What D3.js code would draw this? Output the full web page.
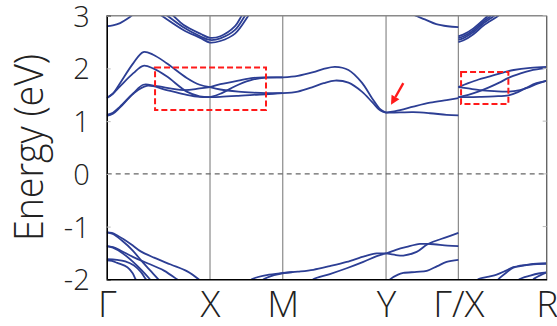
<!DOCTYPE html>
<html>
<head>
<meta charset="utf-8">
<script src="https://cdn.jsdelivr.net/npm/d3@7"></script>
<style>
  html, body { margin: 0; padding: 0; background: #fff; }
  svg { display: block; }
  text { font-family: "Open Sans", "Lato", sans-serif; font-weight: 300; fill: #222; }
</style>
</head>
<body>
<svg id="chart" width="557" height="326"></svg>
<script>
// High-symmetry points along the k-path
const kTicks = [0, 1, 1.704, 2.704, 3.404, 4.259];
const kLabels = ["Γ", "X", "M", "Y", "Γ/X", "R"];
const eTicks = [-2, -1, 0, 1, 2, 3];

// Upper conduction bands near 2.5–3 eV
const upperBands = [
  [[0, 2.80], [0.06, 2.815], [0.13, 2.86], [0.2, 2.94], [0.26, 3.03], [0.29, 3.08]],
  [[0.62, 3.04], [0.645, 3.0], [0.742, 2.83], [0.905, 2.66], [1.0, 2.58], [1.1, 2.61], [1.242, 2.80], [1.307, 3.0], [1.33, 3.05]],
  [[0.56, 3.04], [0.587, 3.0], [0.742, 2.78], [0.905, 2.61], [1.0, 2.54], [1.1, 2.57], [1.242, 2.73], [1.339, 3.0], [1.36, 3.05]],
  [[0.50, 3.04], [0.532, 3.0], [0.742, 2.73], [0.905, 2.58], [1.0, 2.49], [1.1, 2.52], [1.242, 2.66], [1.371, 3.0], [1.39, 3.05]],
  [[2.95, 3.04], [2.99, 3.0], [3.08, 2.93], [3.19, 2.84], [3.3, 2.80], [3.404, 2.785]],
  [[3.404, 2.61], [3.45, 2.64], [3.55, 2.76], [3.65, 2.93], [3.69, 3.0], [3.72, 3.06]],
  [[3.404, 2.575], [3.45, 2.605], [3.55, 2.725], [3.65, 2.895], [3.72, 3.0], [3.75, 3.06]],
  [[3.404, 2.54], [3.45, 2.57], [3.55, 2.69], [3.65, 2.86], [3.75, 3.0], [3.78, 3.06]],
  [[3.404, 2.50], [3.45, 2.53], [3.55, 2.65], [3.65, 2.82], [3.79, 3.0], [3.82, 3.06]]
];

// Lowest conduction bands
const conductionBands = [
  // Γ–X
  [[0, 1.435], [0.06, 1.52], [0.129, 1.72], [0.258, 2.10], [0.354, 2.31], [0.45, 2.26], [0.58, 2.10], [0.775, 1.82], [0.9, 1.69], [1.0, 1.645]],
  [[0, 1.44], [0.06, 1.52], [0.129, 1.66], [0.258, 1.91], [0.354, 2.05], [0.45, 2.0], [0.58, 1.85], [0.775, 1.56], [0.9, 1.47], [1.0, 1.455]],
  [[0, 1.12], [0.06, 1.16], [0.129, 1.275], [0.258, 1.53], [0.354, 1.69], [0.47, 1.67], [0.742, 1.59], [0.9, 1.62], [1.0, 1.645]],
  [[0, 1.10], [0.06, 1.14], [0.129, 1.26], [0.258, 1.52], [0.387, 1.67], [0.58, 1.59], [0.775, 1.50], [0.9, 1.46], [1.0, 1.455]],
  // X–M
  [[1.0, 1.645], [1.1, 1.70], [1.274, 1.77], [1.42, 1.82], [1.542, 1.83], [1.704, 1.83]],
  [[1.0, 1.455], [1.1, 1.52], [1.274, 1.69], [1.42, 1.79], [1.542, 1.825], [1.704, 1.83]],
  [[1.0, 1.645], [1.1, 1.60], [1.274, 1.56], [1.42, 1.54], [1.542, 1.53], [1.704, 1.53]],
  [[1.0, 1.455], [1.1, 1.46], [1.274, 1.48], [1.42, 1.50], [1.542, 1.51], [1.704, 1.53]],
  // M–Y
  [[1.704, 1.83], [1.85, 1.86], [2.0, 1.93], [2.1, 1.99], [2.21, 2.03], [2.34, 1.97], [2.47, 1.73], [2.57, 1.43], [2.65, 1.22], [2.704, 1.16]],
  [[1.704, 1.53], [1.85, 1.56], [2.0, 1.65], [2.1, 1.72], [2.21, 1.77], [2.34, 1.73], [2.47, 1.56], [2.57, 1.36], [2.65, 1.20], [2.704, 1.16]],
  // Y–Γ
  [[2.704, 1.16], [2.84, 1.21], [2.968, 1.275], [3.13, 1.35], [3.29, 1.40], [3.404, 1.435]],
  [[2.704, 1.16], [2.84, 1.165], [2.968, 1.17], [3.13, 1.15], [3.29, 1.12], [3.404, 1.11]],
  // X–R
  [[3.404, 1.645], [3.50, 1.72], [3.60, 1.79], [3.71, 1.85], [3.85, 1.93], [3.94, 1.97], [4.1, 2.01], [4.259, 2.03]],
  [[3.404, 1.455], [3.50, 1.50], [3.61, 1.57], [3.70, 1.64], [3.80, 1.73], [3.89, 1.82], [4.0, 1.90], [4.1, 1.96], [4.259, 2.01]],
  [[3.404, 1.645], [3.50, 1.62], [3.61, 1.59], [3.75, 1.57], [3.89, 1.56], [4.0, 1.59], [4.07, 1.63], [4.17, 1.71], [4.259, 1.77]],
  [[3.404, 1.455], [3.50, 1.455], [3.61, 1.46], [3.75, 1.47], [3.89, 1.49], [3.98, 1.55], [4.06, 1.63], [4.16, 1.72], [4.259, 1.765]]
];

// Top valence bands
const valenceBands = [
  // Γ–X
  [[0, -1.11], [0.05, -1.12], [0.103, -1.17], [0.232, -1.33], [0.329, -1.47], [0.458, -1.59], [0.62, -1.72], [0.78, -1.85], [0.903, -2.02], [0.95, -2.1]],
  [[0, -1.11], [0.06, -1.14], [0.15, -1.27], [0.25, -1.45], [0.35, -1.68], [0.43, -1.85], [0.5, -2.0], [0.53, -2.07]],
  [[0, -1.37], [0.06, -1.39], [0.129, -1.45], [0.258, -1.58], [0.4, -1.70], [0.55, -1.83], [0.68, -2.0], [0.72, -2.06]],
  [[0, -1.37], [0.06, -1.40], [0.15, -1.50], [0.25, -1.66], [0.34, -1.83], [0.419, -2.0], [0.45, -2.07]],
  [[0, -1.62], [0.1, -1.63], [0.18, -1.66], [0.265, -1.74], [0.33, -1.86], [0.38, -2.0], [0.41, -2.07]],
  [[0, -1.64], [0.05, -1.65], [0.103, -1.69], [0.2, -1.77], [0.25, -1.88], [0.28, -2.0], [0.3, -2.06]],
  // X–M–Y
  [[1.38, -2.06], [1.404, -2.0], [1.549, -1.92], [1.704, -1.88], [1.85, -1.855], [2.0, -1.82], [2.16, -1.75], [2.323, -1.67], [2.5, -1.56], [2.614, -1.51], [2.704, -1.51]],
  [[1.50, -2.06], [1.52, -2.0], [1.62, -1.92], [1.704, -1.885], [1.80, -1.865]],
  [[1.97, -2.06], [2.0, -2.0], [2.16, -1.90], [2.323, -1.79], [2.484, -1.67], [2.614, -1.56], [2.704, -1.51]],
  // Y–Γ
  [[2.704, -1.51], [2.80, -1.44], [2.904, -1.385], [3.033, -1.33], [3.13, -1.33], [3.3, -1.36], [3.404, -1.37]],
  [[2.704, -1.51], [2.80, -1.54], [2.871, -1.55], [3.0, -1.48], [3.11, -1.33], [3.29, -1.20], [3.404, -1.12]],
  [[2.72, -2.06], [2.743, -2.0], [2.82, -1.91], [2.871, -1.88], [3.0, -1.86], [3.098, -1.84], [3.2, -1.75], [3.29, -1.67], [3.404, -1.63]],
  // X–R
  [[3.58, -2.06], [3.597, -2.0], [3.7, -1.95], [3.775, -1.91], [3.86, -1.84], [3.936, -1.77], [4.098, -1.715], [4.259, -1.70]],
  [[3.77, -2.06], [3.791, -2.0], [3.87, -1.87], [3.936, -1.78], [4.098, -1.72], [4.259, -1.70]],
  [[3.97, -2.06], [3.994, -2.0], [4.1, -1.93], [4.18, -1.89], [4.259, -1.87]],
  [[4.11, -2.06], [4.13, -2.0], [4.2, -1.92], [4.259, -1.87]]
];

// Highlighted regions [k0, k1, E0, E1] and the arrow [kTail, ETail, kTip, ETip]
const highlightBoxes = [[0.468, 1.542, 1.213, 2.017], [3.43, 3.888, 1.327, 1.93]];
const arrowMark = [2.871, 1.72, 2.752, 1.31];

const svg = d3.select("#chart");
const margin = { left: 106.7, right: 557 - 546.7, top: 15.7, bottom: 326 - 279.3 };
const W = 557, H = 326;

const x = d3.scaleLinear().domain([kTicks[0], kTicks[kTicks.length - 1]]).range([margin.left, W - margin.right]);
const y = d3.scaleLinear().domain([-2, 3]).range([H - margin.bottom, margin.top]);

svg.append("defs").append("clipPath").attr("id", "plotClip")
  .append("rect")
  .attr("x", x.range()[0]).attr("y", y.range()[1])
  .attr("width", x.range()[1] - x.range()[0]).attr("height", y.range()[0] - y.range()[1]);

// Vertical lines at the high-symmetry points
svg.append("g").selectAll("line").data(kTicks.slice(1, -1)).join("line")
  .attr("x1", d => x(d)).attr("x2", d => x(d))
  .attr("y1", y(3)).attr("y2", y(-2))
  .attr("stroke", "#8a8a8a").attr("stroke-width", 1.2);

// Fermi level
svg.append("line")
  .attr("x1", x.range()[0]).attr("x2", x.range()[1])
  .attr("y1", y(0)).attr("y2", y(0))
  .attr("stroke", "#666").attr("stroke-width", 1.1).attr("stroke-dasharray", "5,4");

// Bands
const line = d3.line().x(d => x(d[0])).y(d => y(d[1])).curve(d3.curveCatmullRom.alpha(0.5));
const bandGroup = svg.append("g").attr("clip-path", "url(#plotClip)");
bandGroup.selectAll("path")
  .data([...upperBands, ...conductionBands, ...valenceBands]).join("path")
  .attr("d", line)
  .attr("fill", "none").attr("stroke", "#2c3e94").attr("stroke-width", 1.8);

// Frame: top and right in grey, left and bottom axes in black
svg.append("line").attr("x1", x.range()[0]).attr("x2", x.range()[1]).attr("y1", y(3)).attr("y2", y(3))
  .attr("stroke", "#8a8a8a").attr("stroke-width", 1.6);
svg.append("line").attr("x1", x.range()[1]).attr("x2", x.range()[1]).attr("y1", y(3)).attr("y2", y(-2))
  .attr("stroke", "#666").attr("stroke-width", 1.4);

const yAxis = d3.axisLeft(y).tickValues(eTicks).tickSize(-4).tickPadding(17).tickFormat(d3.format("d"));
const gy = svg.append("g").attr("transform", `translate(${x.range()[0]},0)`).call(yAxis);
gy.select(".domain").attr("stroke", "#000").attr("stroke-width", 1.6);
gy.selectAll(".tick line").attr("stroke", "#bbb");
gy.selectAll(".tick text").attr("font-size", 29).attr("font-family", null).attr("fill", "#222")
  .attr("dy", "0.36em")
  .text(d => d < 0 ? "-" + Math.abs(d) : d);

// Inner ticks on the right edge
svg.append("g").selectAll("line").data(eTicks).join("line")
  .attr("x1", x.range()[1] - 4).attr("x2", x.range()[1])
  .attr("y1", d => y(d)).attr("y2", d => y(d))
  .attr("stroke", "#bbb");

const xAxis = d3.axisBottom(x).tickValues(kTicks).tickSize(0).tickFormat((d, i) => kLabels[i]);
const gx = svg.append("g").attr("transform", `translate(0,${y(-2)})`).call(xAxis);
gx.select(".domain").attr("stroke", "#000").attr("stroke-width", 1.6);
gx.selectAll(".tick text").attr("font-size", 37).attr("font-family", null).attr("fill", "#222")
  .attr("y", 317 - y(-2)).attr("dy", 0);

// Axis title
svg.append("text")
  .attr("transform", `translate(43,${(y(3) + y(-2)) / 2}) rotate(-90)`)
  .attr("text-anchor", "middle")
  .attr("font-size", 40)
  .attr("textLength", 187)
  .attr("lengthAdjust", "spacingAndGlyphs")
  .text("Energy (eV)");

// Highlight boxes
svg.append("g").selectAll("rect").data(highlightBoxes).join("rect")
  .attr("x", d => x(d[0])).attr("y", d => y(d[3]))
  .attr("width", d => x(d[1]) - x(d[0])).attr("height", d => y(d[2]) - y(d[3]))
  .attr("fill", "none").attr("stroke", "#ff1a1a").attr("stroke-width", 2).attr("stroke-dasharray", "6,3");

// Arrow
const [ak0, ae0, ak1, ae1] = arrowMark;
const ax0 = x(ak0), ay0 = y(ae0), ax1 = x(ak1), ay1 = y(ae1);
const ang = Math.atan2(ay1 - ay0, ax1 - ax0);
const headLen = 9, headW = 4.5;
const bx = ax1 - headLen * Math.cos(ang), by = ay1 - headLen * Math.sin(ang);
svg.append("line").attr("x1", ax0).attr("y1", ay0).attr("x2", bx).attr("y2", by)
  .attr("stroke", "#ff1a1a").attr("stroke-width", 2.4);
svg.append("path")
  .attr("d", `M${ax1},${ay1}L${bx + headW * Math.sin(ang)},${by - headW * Math.cos(ang)}L${bx - headW * Math.sin(ang)},${by + headW * Math.cos(ang)}Z`)
  .attr("fill", "#ff1a1a");
</script>
</body>
</html>
